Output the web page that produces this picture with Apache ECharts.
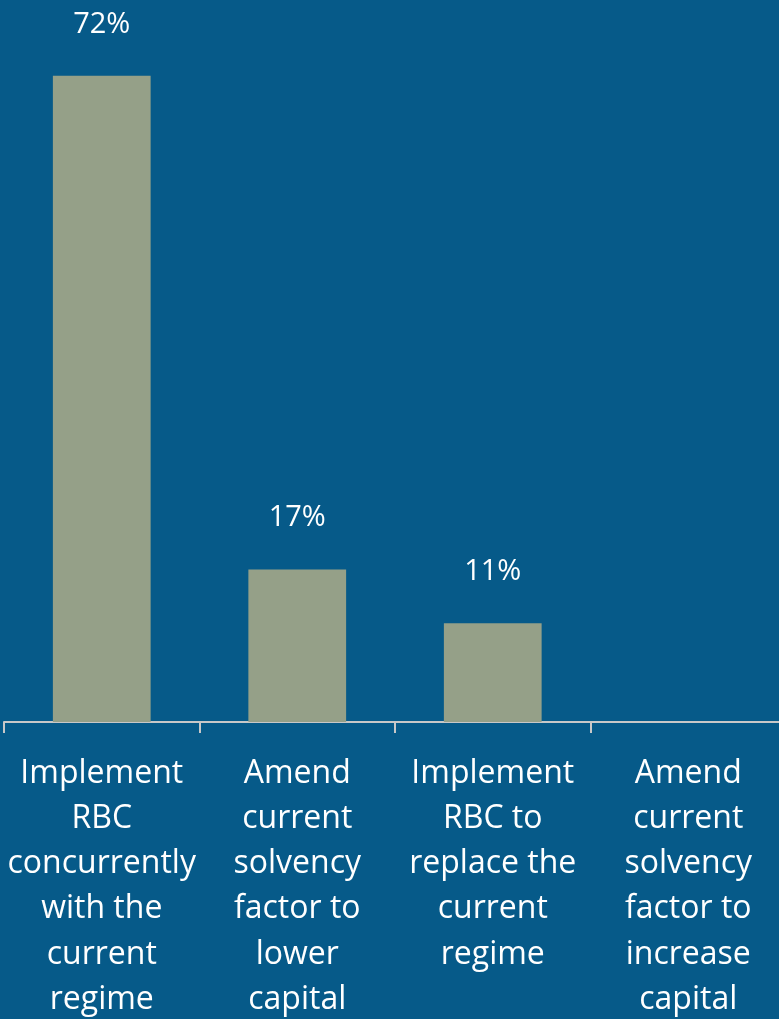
<!DOCTYPE html>
<html>
<head>
<meta charset="utf-8">
<style>
html,body{margin:0;padding:0;background:#065A89;}
#chart{width:779px;height:1019px;}
</style>
<script src="https://cdn.jsdelivr.net/npm/echarts@6/dist/echarts.min.js"></script>
</head>
<body>
<div id="chart"></div>
<script>
const categories = [
  "Implement\nRBC\nconcurrently\nwith the\ncurrent\nregime",
  "Amend\ncurrent\nsolvency\nfactor to\nlower\ncapital",
  "Implement\nRBC to\nreplace the\ncurrent\nregime",
  "Amend\ncurrent\nsolvency\nfactor to\nincrease\ncapital"
];
const values = [72, 17, 11, null];

const chart = echarts.init(document.getElementById('chart'));
chart.setOption({
  backgroundColor: '#065A89',
  animation: false,
  grid: { left: 4, top: 4, right: -7, bottom: 297, containLabel: false, outerBoundsMode: 'none' },
  xAxis: {
    type: 'category',
    data: categories,
    axisLine: { show: true, lineStyle: { color: '#C8C8C8', width: 2 } },
    axisTick: { show: true, length: 11, lineStyle: { color: '#C8C8C8', width: 2 } },
    axisLabel: {
      color: '#FFFFFF', fontFamily: 'Open Sans', fontSize: 32, lineHeight: 45.2,
      margin: 29, interval: 0, align: 'center'
    }
  },
  yAxis: {
    type: 'value', min: 0, max: 80, show: false,
    splitLine: { show: false }
  },
  series: [{
    type: 'bar',
    data: values,
    barWidth: '50%',
    itemStyle: { color: '#95A088' },
    label: {
      show: true, position: 'top', distance: 37,
      color: '#FFFFFF', fontFamily: 'Open Sans', fontSize: 29,
      formatter: p => p.value + '%'
    }
  }]
});
</script>
</body>
</html>
